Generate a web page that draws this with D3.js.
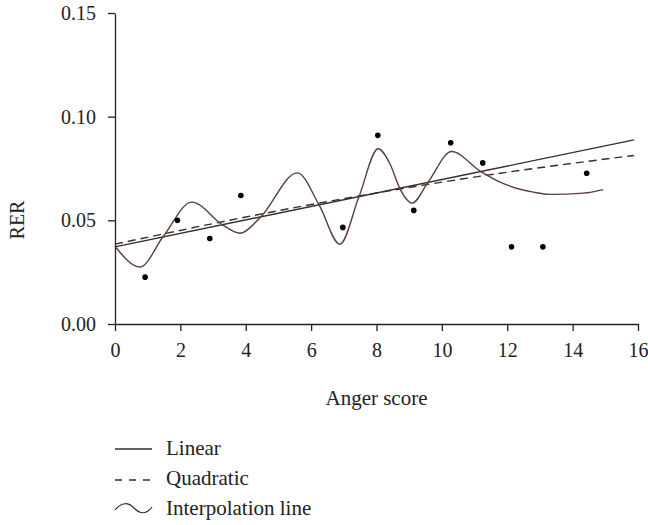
<!DOCTYPE html>
<html>
<head>
<meta charset="utf-8">
<script src="https://cdn.jsdelivr.net/npm/d3@7"></script>
<style>
  html, body { margin: 0; padding: 0; background: #fff; }
  svg { display: block; }
  text { font-family: "Liberation Serif", "DejaVu Serif", serif; fill: #222; }
</style>
</head>
<body>
<svg id="chart" width="648" height="525"></svg>
<script>
// ---- data ----
const xTicks = [0, 2, 4, 6, 8, 10, 12, 14, 16];
const yTicks = [0.00, 0.05, 0.10, 0.15];

// observed points: anger score vs RER
const pointX = [0.92, 1.91, 2.90, 3.85, 6.97, 8.04, 9.14, 10.27, 11.25, 12.13, 13.09, 14.43];
const pointY = [0.0226, 0.0500, 0.0412, 0.0620, 0.0466, 0.0910, 0.0548, 0.0874, 0.0777, 0.0372, 0.0372, 0.0727];

// linear fit (end points)
const linearX = [0, 15.88];
const linearY = [0.0372, 0.0888];

// quadratic fit
const quadX = [0, 4, 8, 12, 15.88];
const quadY = [0.0385, 0.0516, 0.0632, 0.0732, 0.0813];

// interpolation line (traced knots)
const interpX = [0, 0.765, 1.48, 2.35, 3.31, 3.82, 4.44, 5.58, 6.25, 6.88, 7.46, 8.05, 8.41, 8.72, 9.09, 9.58, 10.30, 11.17, 11.78, 12.80, 13.31, 14.33, 14.94];
const interpY = [0.0375, 0.0275, 0.0423, 0.0588, 0.0476, 0.0438, 0.0513, 0.0729, 0.0572, 0.0385, 0.0612, 0.0845, 0.0773, 0.0652, 0.0583, 0.0684, 0.0832, 0.0737, 0.0684, 0.0636, 0.0625, 0.0631, 0.0648];

const legendLabels = ["Linear", "Quadratic", "Interpolation line"];

// ---- layout ----
const svg = d3.select("#chart");
const mLeft = 115, mRight = 638, mTop = 13, mBottom = 324;
const x = d3.scaleLinear().domain([0, 16]).range([mLeft, mRight]);
const y = d3.scaleLinear().domain([0, 0.15]).range([mBottom, mTop]);

const lineCol = "#3a2c29";
const interpCol = "#5c3f38";
const tickFont = 20;
const labelFont = 21;

// axes
const xAxis = svg.append("g").attr("transform", `translate(0,${mBottom})`)
  .call(d3.axisBottom(x).tickValues(xTicks).tickFormat(d3.format("d")).tickSize(7).tickSizeOuter(0).tickPadding(12));
const yAxis = svg.append("g").attr("transform", `translate(${mLeft},0)`)
  .call(d3.axisLeft(y).tickValues(yTicks).tickFormat(d3.format(".2f")).tickSize(7).tickSizeOuter(0).tickPadding(12));
[xAxis, yAxis].forEach(a => {
  a.selectAll("path, line").attr("stroke", "#222").attr("stroke-width", 1.3);
  a.selectAll("text").attr("font-family", "Liberation Serif, serif").attr("font-size", tickFont).attr("fill", "#222");
});

// axis titles
svg.append("text").attr("x", (mLeft + mRight) / 2).attr("y", 405)
  .attr("text-anchor", "middle").attr("font-size", labelFont).text("Anger score");
svg.append("text").attr("transform", `translate(24,220) rotate(-90)`)
  .attr("text-anchor", "middle").attr("font-size", labelFont - 1).text("RER");

// linear
svg.append("path").datum(d3.zip(linearX, linearY))
  .attr("d", d3.line().x(d => x(d[0])).y(d => y(d[1])))
  .attr("fill", "none").attr("stroke", lineCol).attr("stroke-width", 1.4);
// quadratic
svg.append("path").datum(d3.zip(quadX, quadY))
  .attr("d", d3.line().x(d => x(d[0])).y(d => y(d[1])).curve(d3.curveNatural))
  .attr("fill", "none").attr("stroke", lineCol)
  .attr("stroke-width", 1.4).attr("stroke-dasharray", "8,5");
// interpolation
svg.append("path").datum(d3.zip(interpX, interpY))
  .attr("d", d3.line().x(d => x(d[0])).y(d => y(d[1])).curve(d3.curveMonotoneX))
  .attr("fill", "none").attr("stroke", interpCol).attr("stroke-width", 1.4);

// points
svg.append("g").selectAll("circle").data(d3.zip(pointX, pointY)).join("circle")
  .attr("cx", d => x(d[0])).attr("cy", d => y(d[1])).attr("r", 2.8).attr("fill", "#000");

// legend
const lg = svg.append("g");
const legBase = [455, 485, 515];
const gx0 = 115, gx1 = 152, tx = 166;
// Linear
lg.append("line").attr("x1", gx0).attr("x2", gx1).attr("y1", legBase[0] - 6).attr("y2", legBase[0] - 6)
  .attr("stroke", lineCol).attr("stroke-width", 1.4);
// Quadratic
lg.append("line").attr("x1", gx0).attr("x2", gx1).attr("y1", legBase[1] - 5).attr("y2", legBase[1] - 5)
  .attr("stroke", lineCol).attr("stroke-width", 1.4).attr("stroke-dasharray", "7,7");
// Interpolation glyph
const wy = legBase[2] - 6;
lg.append("path")
  .attr("d", `M${gx0},${wy + 1} C${gx0 + 7},${wy - 7} ${gx0 + 13},${wy - 7} ${gx0 + 19},${wy - 1} S${gx0 + 31},${wy + 6} ${gx1},${wy - 2}`)
  .attr("fill", "none").attr("stroke", lineCol).attr("stroke-width", 1.2);
lg.selectAll("text.lab").data(legendLabels).join("text").attr("class", "lab")
  .attr("x", tx).attr("y", (d, i) => legBase[i]).attr("font-size", labelFont).text(d => d);
</script>
</body>
</html>
